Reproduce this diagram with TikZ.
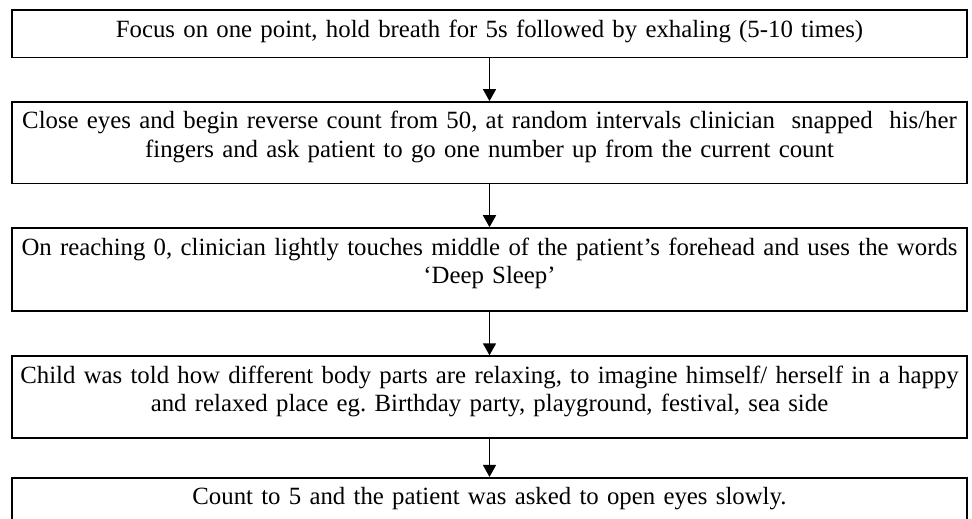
\documentclass[tikz,border=0pt]{standalone}
\usepackage{fontspec}
\setmainfont{Liberation Serif}
\usepackage{tikz}
\usetikzlibrary{arrows.meta,positioning}

\begin{document}
\begin{tikzpicture}[x=1pt, y=-1pt,
  every node/.style={draw, line width=1.6pt, rectangle, inner xsep=3pt, inner ysep=0pt,
    text width=949pt, align=center, text height=27pt,
    font=\fontsize{24.8}{28.5}\selectfont},
  flow/.style={line width=1.6pt, -{Triangle[length=12pt, width=13pt]}}]
  \clip (0,0) rectangle (972,519);

  \node[anchor=north, text depth=20.4pt] (focus) at (489.5,9.3)
    {Focus on one point, hold breath for 5s followed by exhaling (5-10 times)};
  \node[below=42.8pt of focus, text depth=54.5pt] (count)
    {Close eyes and begin reverse count from 50, at random intervals clinician\ \ snapped\ \ his/her\\
     fingers and ask patient to go one number up from the current count};
  \node[below=43pt of count, text depth=56pt] (touch)
    {On reaching 0, clinician lightly touches middle of the patient’s forehead and uses the words\\
     ‘Deep Sleep’};
  \node[below=43.5pt of touch, text depth=55pt] (relax)
    {Child was told how different body parts are relaxing, to imagine himself/ herself in a happy\\
     and relaxed place eg.\ Birthday party, playground, festival, sea side};
  \node[below=38pt of relax, text depth=70pt] (wake)
    {Count to 5 and the patient was asked to open eyes slowly.};

  \draw[flow] (focus) -- (count);
  \draw[flow] (count) -- (touch);
  \draw[flow] (touch) -- (relax);
  \draw[flow] (relax) -- (wake);
\end{tikzpicture}
\end{document}
